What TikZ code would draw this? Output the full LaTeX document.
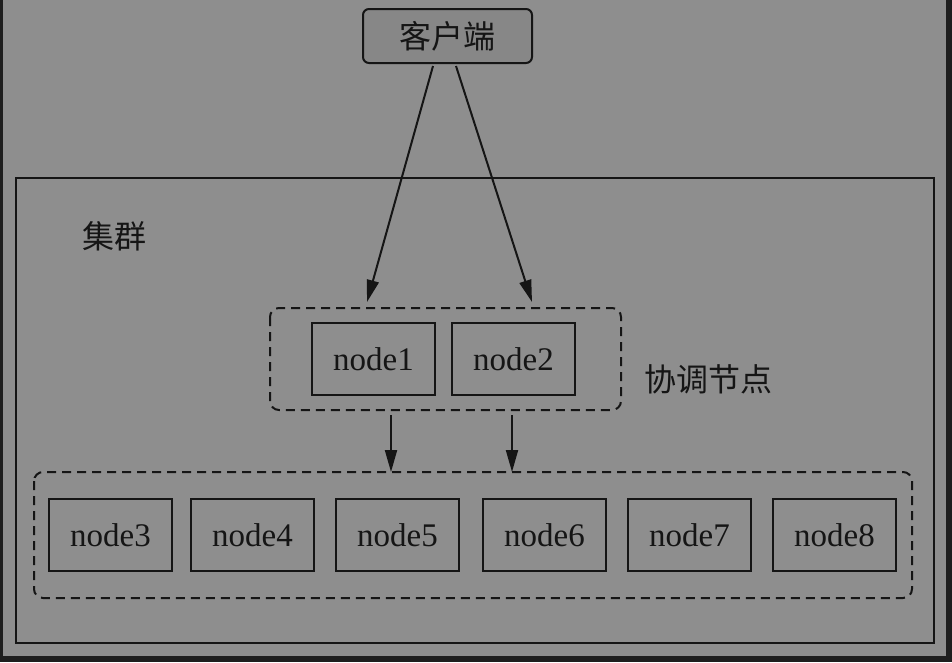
\documentclass[tikz,border=0pt]{standalone}
\usepackage{fontspec}
\setmainfont{Liberation Serif}
\newfontfamily\cjk{Noto Sans CJK SC}
\usetikzlibrary{arrows.meta}
\definecolor{bg}{HTML}{8E8E8E}
\definecolor{frame}{HTML}{1E1E1E}
\definecolor{ink}{HTML}{151515}
\begin{document}
\begin{tikzpicture}[x=1pt,y=-1pt,
  nodebox/.style={draw=ink,line width=2pt,minimum width=123pt,minimum height=72pt,inner sep=0pt,font=\fontsize{33}{33}\selectfont,text=ink},
  cjklabel/.style={inner sep=0pt,font=\cjk\fontsize{32}{32}\selectfont,text=ink},
  group/.style={draw=ink,line width=2pt,dash pattern=on 9pt off 6pt,rounded corners=9pt},
  arr/.style={draw=ink,line width=2pt,-{Triangle[length=22pt,width=12pt]}}]
\useasboundingbox (0,0) rectangle (952,662);
\fill[frame] (0,0) rectangle (952,662);
\fill[bg] (3,0) rectangle (946,656);
% cluster
\draw[ink,line width=2pt] (16,178) rectangle (934,643);
\node[cjklabel] (cl) at (114,236) {集群};
% client
\node[draw=ink,line width=2pt,rounded corners=6pt,fill=black!5!bg,minimum width=169pt,minimum height=54pt,cjklabel,inner sep=0pt] (client) at (447.5,36) {客户端};
% coordinator group
\draw[group] (270,308) rectangle (621,410);
\coordinate (gtl) at (367,302);
\coordinate (gtr) at (532,302);
\node[nodebox] (n1) at (373.5,359) {node1};
\node[nodebox] (n2) at (513.5,359) {node2};
\node[cjklabel] (coord) at (708,379) {协调节点};
% bottom group
\draw[group] (34,472) rectangle (912,598);
\node[nodebox] (n3) at (110.5,535) {node3};
\node[nodebox] (n4) at (252.5,535) {node4};
\node[nodebox] (n5) at (397.5,535) {node5};
\node[nodebox] (n6) at (544.5,535) {node6};
\node[nodebox] (n7) at (689.5,535) {node7};
\node[nodebox] (n8) at (834.5,535) {node8};
% arrows
\coordinate (c1) at (433,66);
\coordinate (c2) at (456,66);
\draw[arr] (c1) -- (gtl);
\draw[arr] (c2) -- (gtr);
\coordinate (d1s) at (391,415);
\coordinate (d1e) at (391,472);
\coordinate (d2s) at (512,415);
\coordinate (d2e) at (512,472);
\draw[arr] (d1s) -- (d1e);
\draw[arr] (d2s) -- (d2e);
\end{tikzpicture}
\end{document}
